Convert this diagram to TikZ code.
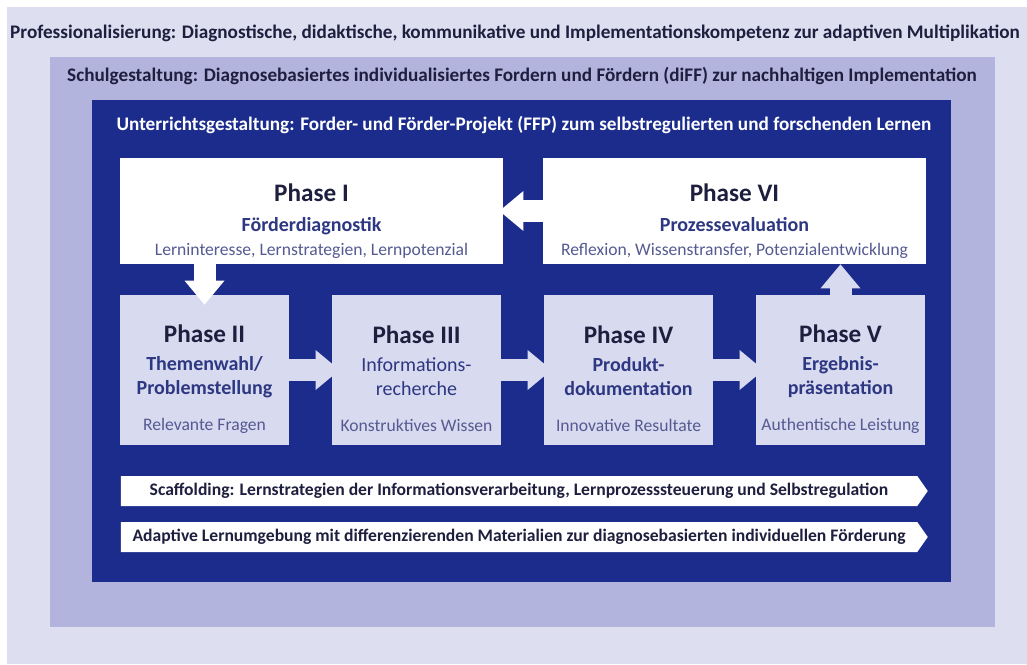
\documentclass[tikz,border=0pt]{standalone}
\usepackage{fontspec}
\setmainfont{Carlito}
\usetikzlibrary{arrows.meta,shapes.symbols}

\definecolor{outerbg}{RGB}{221,222,240}
\definecolor{schulbg}{RGB}{178,180,222}
\definecolor{unterbg}{RGB}{28,44,140}
\definecolor{phasebg}{RGB}{216,218,240}
\definecolor{titlecol}{RGB}{30,30,62}
\definecolor{subcol}{RGB}{45,55,130}
\definecolor{notecol}{RGB}{85,90,145}

\newcommand{\phtitle}{\bfseries\fontsize{12.6}{14}\selectfont\color{titlecol}}
\newcommand{\phsub}{\bfseries\fontsize{10}{11}\selectfont\color{subcol}}
\newcommand{\phnote}{\fontsize{8.8}{10}\selectfont\color{notecol}}

\begin{document}
\begin{tikzpicture}[x=0.5pt,y=-0.5pt,
    panel/.style={inner sep=0pt,outer sep=0pt},
    header/.style={font=\bfseries\fontsize{#1}{12}\selectfont,text=titlecol},
    phasebig/.style={fill=white,minimum width=191.5pt,minimum height=53pt,align=center,inner sep=0pt},
    phase/.style={fill=phasebg,minimum width=84.5pt,minimum height=75pt,align=center,inner sep=0pt},
    band/.style={signal,signal to=east,signal pointer angle=110,fill=white,minimum width=403.5pt,minimum height=15pt,inner sep=0pt,font=\bfseries\fontsize{8.8}{10}\selectfont,text=titlecol},
    flow/.style={line width=11pt,draw=#1,-{Triangle[width=20pt,length=12pt,line width=0pt]}}
]
\useasboundingbox[fill=white] (0,0) rectangle (1027,664);

% Three nested levels
\node[panel,fill=outerbg,minimum width=510pt,minimum height=328.5pt] (prof) at (517,335.5) {};
\node[panel,fill=schulbg,minimum width=472.5pt,minimum height=285pt] (schule) at (522.5,342) {};
\node[panel,fill=unterbg,minimum width=429.5pt,minimum height=241pt] (unterricht) at (521.5,341) {};

\node[header=9.6] (proftext) at (515,33) {Professionalisierung: Diagnostische, didaktische, kommunikative und Implementationskompetenz zur adaptiven Multiplikation};
\node[header=9.6] (schultext) at (522,76) {Schulgestaltung: Diagnosebasiertes individualisiertes Fordern und Fördern (diFF) zur nachhaltigen Implementation};
\node[header=9.6,text=white] (untertext) at (524,125) {Unterrichtsgestaltung: Forder- und Förder-Projekt (FFP) zum selbstregulierten und forschenden Lernen};

% Phases
\node[phasebig] (p1) at (311.5,211) {{\phtitle\rule{0pt}{19pt}Phase I}\\[3pt]{\phsub Förderdiagnostik}\\{\phnote Lerninteresse, Lernstrategien, Lernpotenzial}};
\node[phasebig] (p6) at (734.5,211) {{\phtitle\rule{0pt}{19pt}Phase VI}\\[3pt]{\phsub Prozessevaluation}\\{\phnote Reflexion, Wissenstransfer, Potenzialentwicklung}};
\node[phase] (p2) at (204.5,370) {{\phtitle\rule{0pt}{18pt}Phase II}\\[2pt]{\phsub Themenwahl/}\\{\phsub Problemstellung}\\[6pt]{\phnote Relevante Fragen}};
\node[phase] (p3) at (416.5,370) {{\phtitle\rule{0pt}{18pt}Phase III}\\[2pt]{\phsub\mdseries Informations-}\\{\phsub\mdseries recherche}\\[6pt]{\phnote Konstruktives Wissen}};
\node[phase] (p4) at (628.5,370) {{\phtitle\rule{0pt}{18pt}Phase IV}\\[2pt]{\phsub Produkt-}\\{\phsub dokumentation}\\[6pt]{\phnote Innovative Resultate}};
\node[phase] (p5) at (840.5,370) {{\phtitle\rule{0pt}{18pt}Phase V}\\[2pt]{\phsub Ergebnis-}\\{\phsub präsentation}\\[6pt]{\phnote Authentische Leistung}};

% Flow between phases
\draw[flow=white] (p1.south -| p2.north) -- ([yshift=-5pt]p2.north);
\draw[flow=phasebg] (p2.east) -- ([xshift=4pt]p3.west);
\draw[flow=phasebg] (p3.east) -- ([xshift=4pt]p4.west);
\draw[flow=phasebg] (p4.east) -- ([xshift=4pt]p5.west);
\draw[flow=phasebg] (p5.north) -- (p5.north |- p6.south);
\draw[flow=white] (p6.west) -- ([xshift=-2pt]p1.east);

% Bands
\node[band] (scaffold) at (519,491) {Scaffolding: Lernstrategien der Informationsverarbeitung, Lernprozesssteuerung und Selbstregulation};
\node[band] (umgebung) at (519,537) {Adaptive Lernumgebung mit differenzierenden Materialien zur diagnosebasierten individuellen Förderung};
\end{tikzpicture}
\end{document}
